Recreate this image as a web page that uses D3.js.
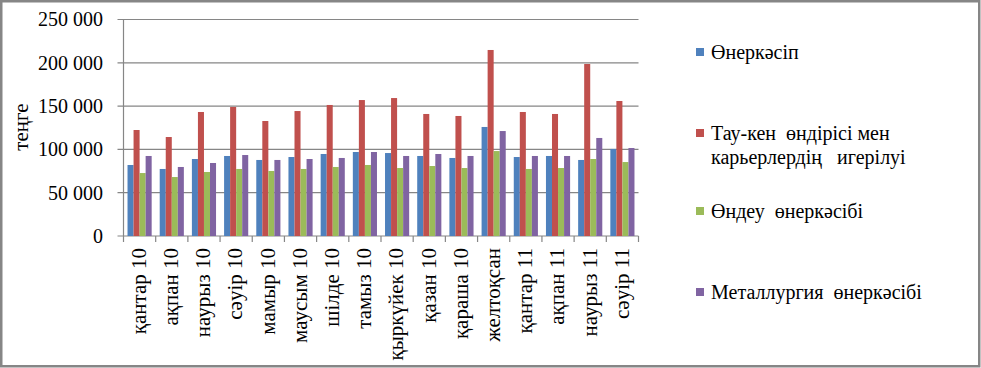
<!DOCTYPE html>
<html>
<head>
<meta charset="utf-8">
<script src="https://d3js.org/d3.v7.min.js"></script>
<style>
  body { margin: 0; background: #fff; }
</style>
</head>
<body>
<div id="chart"></div>
<script>
var categories = ["қантар 10", "ақпан 10", "наурыз 10", "сәуір 10", "мамыр 10", "маусым 10",
  "шілде 10", "тамыз 10", "қыркүйек 10", "қазан 10", "қараша 10", "желтоқсан",
  "қантар 11", "ақпан 11", "наурыз 11", "сәуір 11"];

var seriesNames = ["Өнеркәсіп", "Тау-кен  өндірісі мен карьерлердің   игерілуі",
  "Өндеу  өнеркәсібі", "Металлургия  өнеркәсібі"];

var industry = [82000, 77400, 88900, 92400, 87800, 91200, 94700, 97000, 95800, 92400, 90100, 125900, 91200, 92400, 87800, 100500];
var mining = [122400, 114300, 143200, 149000, 132800, 144300, 151300, 157000, 159300, 140900, 138600, 214800, 143200, 140900, 198600, 155900];
var manufacturing = [72700, 68100, 73900, 77400, 75100, 77400, 79700, 82000, 78500, 80800, 78500, 98100, 77400, 78500, 88900, 85400];
var metallurgy = [92400, 79700, 84300, 93500, 87800, 88900, 90100, 97000, 92400, 94700, 92400, 121200, 92400, 92400, 113200, 101600];

var yTicks = [0, 50000, 100000, 150000, 200000, 250000];
var colors = ["#4F81BD", "#C0504D", "#9BBB59", "#8064A2"];

var allSeries = [industry, mining, manufacturing, metallurgy];

var W = 981, H = 368;
var plot = { left: 123.5, right: 638.5, top: 19.5, bottom: 236 };
var FONT = "Liberation Serif";

var svg = d3.select("#chart").append("svg")
  .attr("width", W)
  .attr("height", H);

svg.append("rect")
  .attr("x", 1.25).attr("y", 1.25)
  .attr("width", W - 3).attr("height", H - 3)
  .attr("fill", "white")
  .attr("stroke", "#868686")
  .attr("stroke-width", 2.5);

var x0 = d3.scaleBand().domain(categories).range([plot.left, plot.right])
  .paddingInner(0.25).paddingOuter(0.125);
var x1 = d3.scaleBand().domain(d3.range(allSeries.length)).range([0, x0.bandwidth()]);
var y = d3.scaleLinear().domain([0, 250000]).range([plot.bottom, plot.top]);

var fmt = function (v) { return d3.format(",")(v).replace(/,/g, " "); };

function label(sel, size) {
  return sel.attr("font-family", FONT)
    .style("font-family", "'Liberation Serif', serif", "important")
    .attr("font-size", size)
    .attr("fill", "#000");
}

// сетка
svg.append("g").selectAll("line").data(yTicks).enter().append("line")
  .attr("x1", plot.left - 6)
  .attr("x2", plot.right)
  .attr("y1", function (d) { return y(d); })
  .attr("y2", function (d) { return y(d); })
  .attr("stroke", "#868686")
  .attr("stroke-width", 1.2);

label(svg.append("g").selectAll("text").data(yTicks).enter().append("text"), 20)
  .attr("x", 103)
  .attr("y", function (d) { return y(d); })
  .attr("dy", "0.34em")
  .attr("text-anchor", "end")
  .text(fmt);

// бары
var groups = svg.append("g").selectAll("g").data(categories).enter().append("g")
  .attr("transform", function (d) { return "translate(" + x0(d) + ",0)"; });

groups.selectAll("rect")
  .data(function (d, i) { return allSeries.map(function (s, k) { return { k: k, v: s[i] }; }); })
  .enter().append("rect")
  .attr("x", function (d) { return x1(d.k); })
  .attr("width", x1.bandwidth())
  .attr("y", function (d) { return y(d.v); })
  .attr("height", function (d) { return y(0) - y(d.v); })
  .attr("fill", function (d) { return colors[d.k]; });

// оси
svg.append("line")
  .attr("x1", plot.left).attr("x2", plot.left)
  .attr("y1", plot.top).attr("y2", plot.bottom)
  .attr("stroke", "#868686").attr("stroke-width", 1.2);

var step = x0.step();
svg.append("g").selectAll("line").data(d3.range(categories.length + 1)).enter().append("line")
  .attr("x1", function (i) { return plot.left + i * step; })
  .attr("x2", function (i) { return plot.left + i * step; })
  .attr("y1", plot.bottom)
  .attr("y2", plot.bottom + 6)
  .attr("stroke", "#868686").attr("stroke-width", 1.2);

label(svg.append("g").selectAll("text").data(categories).enter().append("text"), 21)
  .attr("transform", function (d) {
    return "translate(" + (x0(d) + x0.bandwidth() / 2) + ",248) rotate(-90)";
  })
  .attr("dy", "0.3em")
  .attr("text-anchor", "end")
  .text(function (d) { return d; });

label(svg.append("text"), 21)
  .attr("transform", "translate(22,127) rotate(-90)")
  .attr("dy", "0.3em")
  .attr("text-anchor", "middle")
  .text("теңге");

// легенда
var legendY = [[59], [140, 164], [218], [299]];
var legendLines = [["Өнеркәсіп"], ["Тау-кен  өндірісі мен", "карьерлердің   игерілуі"],
  ["Өндеу  өнеркәсібі"], ["Металлургия  өнеркәсібі"]];

var legend = svg.append("g").selectAll("g").data(seriesNames).enter().append("g");

legend.append("rect")
  .attr("x", 696)
  .attr("y", function (d, i) { return legendY[i][0] - 11; })
  .attr("width", 8).attr("height", 8)
  .attr("fill", function (d, i) { return colors[i]; });

legend.each(function (d, i) {
  var g = d3.select(this);
  legendLines[i].forEach(function (line, j) {
    label(g.append("text"), 20)
      .attr("x", 711)
      .attr("y", legendY[i][j])
      .style("white-space", "pre")
      .text(line);
  });
});
</script>
</body>
</html>
